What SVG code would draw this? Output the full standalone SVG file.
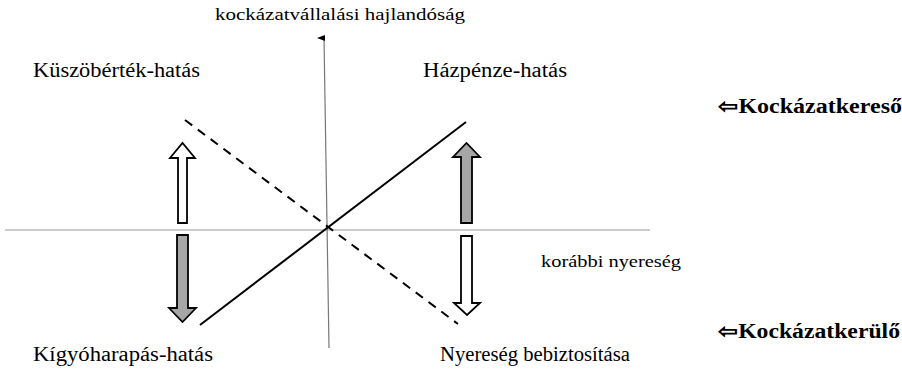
<svg xmlns="http://www.w3.org/2000/svg" width="902" height="372" viewBox="0 0 902 372">
<style>
text{font-family:"Liberation Serif","Times New Roman",serif;fill:#000}
.lbl{font-size:20px}
.ax{font-size:17px}
.b{font-size:20px;font-weight:bold}
.axis{stroke:#999;stroke-width:1.2;fill:none}
.arr{stroke:#000;stroke-width:1.8;stroke-linejoin:miter}
</style>
<defs>
<marker id="ah" markerWidth="8" markerHeight="8" refX="4" refY="7" orient="auto-start-reverse" markerUnits="userSpaceOnUse" viewBox="0 0 8 8">
<path d="M1,8 L4,0 L7,8 Z" fill="#000"/>
</marker>
</defs>
<rect width="902" height="372" fill="#fff"/>
<g id="connectors">
<line class="axis" x1="5" y1="230" x2="650" y2="230"/>
<line x1="329" y1="348" x2="324" y2="38" stroke="#777" stroke-width="1.2" marker-end="url(#ah)"/>
<line x1="200" y1="325" x2="466" y2="122" stroke="#000" stroke-width="2"/>
<line x1="185" y1="120" x2="458" y2="324" stroke="#000" stroke-width="2" stroke-dasharray="9,7"/>
</g>
<g id="arrow-left-up">
<path class="arr" fill="#fff" d="M178,223 L178,158 L170,158 L182.5,143 L195,158 L187,158 L187,223 Z"/>
</g>
<g id="arrow-left-down">
<path class="arr" fill="#a6a6a6" d="M177,235 L188,235 L188,308 L196,308 L182.5,322 L169,308 L177,308 Z"/>
</g>
<g id="arrow-right-up">
<path class="arr" fill="#a6a6a6" d="M461,223 L461,157 L453,157 L466.5,143 L480,157 L472,157 L472,223 Z"/>
</g>
<g id="arrow-right-down">
<path class="arr" fill="#fff" d="M461,236 L472,236 L472,303 L480,303 L467,315 L454,303 L461,303 Z"/>
</g>
<g id="labels">
<text class="ax" x="215" y="20" textLength="250" lengthAdjust="spacingAndGlyphs">kockázatvállalási hajlandóság</text>
<text class="lbl" x="33" y="77" textLength="167" lengthAdjust="spacingAndGlyphs">Küszöbérték-hatás</text>
<text class="lbl" x="423" y="77" textLength="144" lengthAdjust="spacingAndGlyphs">Házpénze-hatás</text>
<text class="b" x="718" y="113" textLength="184" lengthAdjust="spacingAndGlyphs">⇦Kockázatkereső</text>
<text class="ax" x="541" y="267" textLength="140" lengthAdjust="spacingAndGlyphs">korábbi nyereség</text>
<text class="b" x="718" y="338" textLength="182" lengthAdjust="spacingAndGlyphs">⇦Kockázatkerülő</text>
<text class="lbl" x="33" y="361" textLength="180" lengthAdjust="spacingAndGlyphs">Kígyóharapás-hatás</text>
<text class="lbl" x="440" y="361" textLength="190" lengthAdjust="spacingAndGlyphs">Nyereség bebiztosítása</text>
</g>
</svg>
